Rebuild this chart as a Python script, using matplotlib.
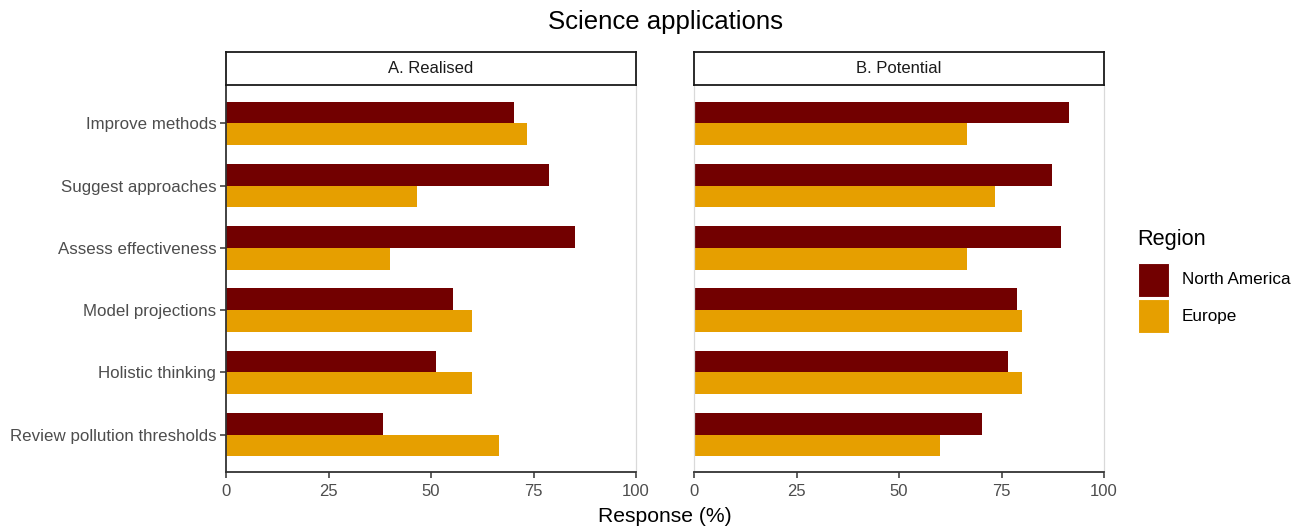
import numpy as np
import matplotlib
matplotlib.use("Agg")
import matplotlib.pyplot as plt
from matplotlib.patches import Rectangle

plt.rcParams['font.family'] = ['Liberation Sans', 'DejaVu Sans']

categories = ["Improve methods", "Suggest approaches", "Assess effectiveness",
              "Model projections", "Holistic thinking", "Review pollution thresholds"]
regions = ["North America", "Europe"]
colors = {"North America": "#720000", "Europe": "#E69F00"}

realised_na = [70.2, 78.7, 85.1, 55.3, 51.1, 38.3]
realised_eu = [73.3, 46.7, 40.0, 60.0, 60.0, 66.7]
potential_na = [91.5, 87.2, 89.4, 78.7, 76.6, 70.2]
potential_eu = [66.7, 73.3, 66.7, 80.0, 80.0, 60.0]

panels = [("A. Realised", realised_na, realised_eu),
          ("B. Potential", potential_na, potential_eu)]
xticks = [0, 25, 50, 75, 100]

W, H = 1303, 529
fig = plt.figure(figsize=(W / 100, H / 100), dpi=100)


def px_axes(x0, y0, x1, y1):
    return fig.add_axes([x0 / W, 1 - y1 / H, (x1 - x0) / W, (y1 - y0) / H])


panel_x = [(226, 636), (694, 1104)]
top, bottom = 86, 472
strip_top = 52
bar_h = 0.35
ypos = np.arange(len(categories))
tick_grey = "#4D4D4D"

for i, ((title, na, eu), (x0, x1)) in enumerate(zip(panels, panel_x)):
    ax = px_axes(x0, top, x1, bottom)
    ax.barh(ypos - bar_h / 2, na, height=bar_h, color=colors["North America"])
    ax.barh(ypos + bar_h / 2, eu, height=bar_h, color=colors["Europe"])
    ax.set_xlim(0, 100)
    ax.set_ylim(len(categories) - 0.4, -0.6)
    ax.set_xticks(xticks)
    ax.set_xticklabels([str(t) for t in xticks], color=tick_grey, fontsize=12)
    ax.tick_params(axis='x', length=4.5, width=1.1, color="#333333", pad=4)
    ax.set_yticks(ypos)
    if i == 0:
        ax.set_yticklabels(categories, color=tick_grey, fontsize=12.2)
        ax.tick_params(axis='y', length=4, width=1.1, color="#333333", pad=3)
        ax.spines['left'].set_color("#333333")
        ax.spines['left'].set_linewidth(1.3)
    else:
        ax.set_yticklabels([])
        ax.tick_params(axis='y', length=0)
        ax.spines['left'].set_color("#D9D9D9")
        ax.spines['left'].set_linewidth(0.9)
    ax.spines['bottom'].set_color("#333333")
    ax.spines['bottom'].set_linewidth(1.3)
    ax.spines['right'].set_color("#D9D9D9")
    ax.spines['right'].set_linewidth(0.9)
    ax.spines['top'].set_visible(False)

    sax = px_axes(x0, strip_top, x1, top - 1)
    sax.set_xticks([])
    sax.set_yticks([])
    for s in sax.spines.values():
        s.set_color("#1A1A1A")
        s.set_linewidth(1.3)
    sax.text(0.5, 0.5, title, ha='center', va='center', fontsize=12,
             color="#1A1A1A", transform=sax.transAxes)

fig.text(665 / W, 1 - 22 / H, "Science applications", ha='center', va='center',
         fontsize=18.5, color="black")
fig.text(665 / W, 1 - 517 / H, "Response (%)", ha='center', va='center',
         fontsize=15.2, color="black")

# legend
fig.text(1137 / W, 1 - 240 / H, "Region", ha='left', va='center', fontsize=15.7)
key_y = [262, 298]
for reg, ky in zip(regions, key_y):
    fig.patches.append(Rectangle((1138 / W, 1 - (ky + 35) / H), 31 / W, 34 / H,
                                 transform=fig.transFigure, facecolor=colors[reg],
                                 edgecolor="white", linewidth=0.8))
    fig.text(1182 / W, 1 - (ky + 18) / H, reg, ha='left', va='center', fontsize=12.3)

fig.savefig("out.png", dpi=100, facecolor="white")
